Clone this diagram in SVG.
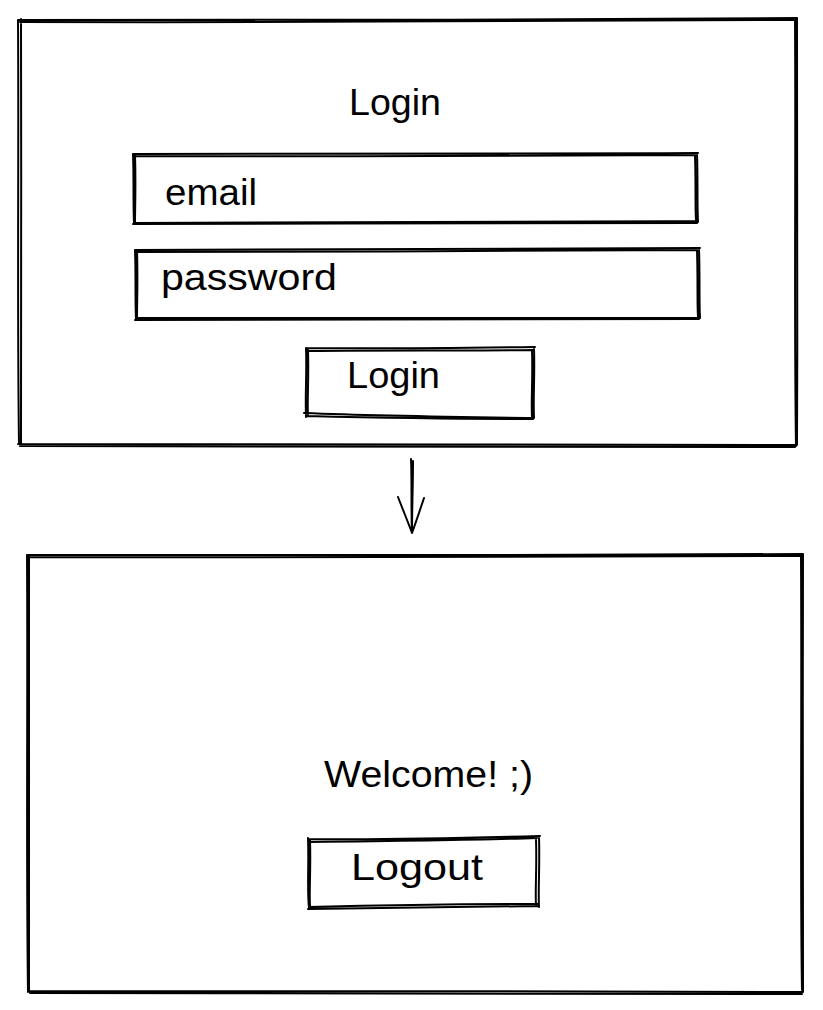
<svg xmlns="http://www.w3.org/2000/svg" width="823" height="1010" viewBox="0 0 823 1010">
<style>
.s{fill:none;stroke:#000;stroke-width:2;stroke-linecap:round;stroke-linejoin:round}
.t{font-family:"Liberation Sans",Arial,sans-serif;font-size:36px;fill:#000}
</style>
<rect width="823" height="1010" fill="#fff"/>
<g id="login-screen">
<path class="s" d="M18 20 C250 19 550 21 797 18 M20 22 C300 23 600 21 796 20 M18 20 C19 150 17 300 19 444 M21 19 C22 160 20 320 21 446 M797 18 C796 150 798 300 797 445 M795 21 C796 160 794 320 796 446 M18 444 C250 446 550 443 797 445 M20 446 C300 447 600 445 795 447"/>
<text class="t" x="349" y="115" textLength="92" lengthAdjust="spacingAndGlyphs">Login</text>
</g>
<g id="email-field">
<path class="s" d="M133 154 C300 155 500 154 698 153 M135 156 C320 157 520 156 697 155 M133 154 C134 180 133 200 134 223 M135 155 C136 185 135 205 135 224 M697 154 C698 180 697 200 698 222 M695 156 C696 185 695 205 696 221 M134 223 C300 221 500 222 698 221 M133 224 C320 223 520 224 697 223"/>
<text class="t" x="165" y="205" textLength="92" lengthAdjust="spacingAndGlyphs">email</text>
</g>
<g id="password-field">
<path class="s" d="M135 250 C300 249 500 250 700 248 M137 252 C320 251 520 252 699 250 M135 250 C136 275 135 300 136 319 M137 251 C138 280 137 300 137 318 M699 249 C700 275 699 300 700 318 M697 251 C698 280 697 300 698 317 M136 318 C300 317 500 318 700 318 M135 320 C320 319 520 320 699 319"/>
<text class="t" x="161" y="290" textLength="176" lengthAdjust="spacingAndGlyphs">password</text>
</g>
<g id="login-button">
<path class="s" d="M306 348 C380 349 460 348 535 347 M308 351 C390 350 470 351 533 350 M306 348 C307 375 305 395 306 417 M308 350 C309 380 307 400 308 416 M534 348 C535 375 533 395 534 418 M532 350 C533 380 531 400 532 417 M304 413 C380 416 460 417 534 418 M307 416 C390 418 470 419 533 419"/>
<text class="t" x="347" y="388" textLength="93" lengthAdjust="spacingAndGlyphs">Login</text>
</g>
<g id="connectors">
<path class="s" d="M411 459 C412 480 411 510 412 533 M413 461 C413 485 412 510 412 531 M398 497 C403 510 408 522 412 533 M424 498 C420 510 416 522 412 533"/>
</g>
<g id="welcome-screen">
<path class="s" d="M27 555 C250 554 550 556 803 554 M29 557 C300 558 600 556 802 556 M27 555 C28 700 26 850 28 992 M29 556 C30 720 28 880 29 990 M803 554 C802 700 804 850 803 992 M801 557 C802 720 800 880 802 990 M28 991 C250 993 550 990 803 992 M30 993 C300 994 600 992 802 994"/>
<text class="t" x="324" y="787" textLength="209" lengthAdjust="spacingAndGlyphs">Welcome! ;)</text>
</g>
<g id="logout-button">
<path class="s" d="M308 839 C390 840 470 838 540 836 M310 842 C400 841 480 840 537 838 M308 838 C309 865 307 890 309 908 M310 840 C311 870 309 890 310 906 M539 837 C540 865 538 890 539 907 M536 839 C537 870 535 890 536 905 M309 907 C390 905 470 904 539 904 M308 909 C400 908 480 907 538 906"/>
<text class="t" x="351" y="880" textLength="132" lengthAdjust="spacingAndGlyphs">Logout</text>
</g>
</svg>
